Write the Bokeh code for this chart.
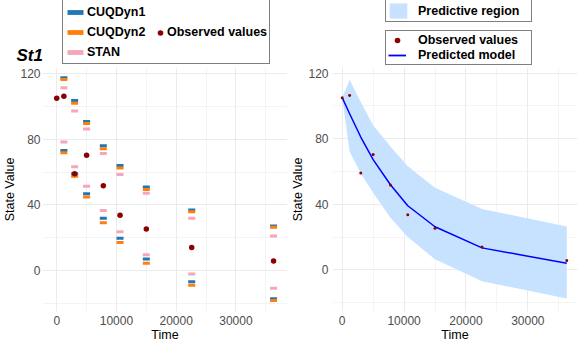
from bokeh.plotting import figure
from bokeh.models import Range1d, FixedTicker, Legend, LegendItem, Label
from bokeh.layouts import row, column
from bokeh.embed import file_html
from bokeh.resources import INLINE

# ---------------- data ----------------
times = [0, 1200, 3000, 5000, 7800, 10600, 15000, 22600, 36300]
observed = [105.0, 106.3, 59.0, 70.3, 51.7, 33.6, 25.3, 14.0, 5.7]

est_times = [1200, 3000, 5000, 7800, 10600, 15000, 22600, 36300]
cuq1_upper = [117.5, 103.6, 90.9, 76.0, 64.0, 50.8, 36.8, 27.1]
cuq1_lower = [73.1, 59.0, 46.8, 31.8, 19.6, 6.9, -7.0, -17.3]
cuq2_upper = [116.5, 102.0, 89.7, 74.2, 62.4, 49.3, 35.8, 26.3]
cuq2_lower = [71.8, 57.4, 44.7, 29.1, 17.0, 4.3, -9.1, -18.4]
stan_upper = [111.5, 97.3, 86.3, 71.3, 58.5, 47.0, 31.8, 21.0]
stan_lower = [78.4, 63.2, 51.3, 36.6, 23.6, 9.5, -2.2, -10.9]

region_upper = [105.0, 116.0, 102.3, 88.2, 75.2, 63.2, 50.1, 37.1, 26.5]
region_lower = [105.0, 72.2, 58.8, 47.0, 31.8, 20.0, 6.4, -7.0, -17.4]
model = [105.0, 95.2, 81.0, 67.2, 51.9, 39.1, 26.3, 13.4, 4.0]

x_ticks = [0, 10000, 20000, 30000]
x_minor = [5000, 15000, 25000, 35000]
y_ticks = [0, 40, 80, 120]
y_minor = [-20, 20, 60, 100]

method_labels = ["CUQDyn1", "CUQDyn2", "STAN"]
panel_title = "St1"

# ---------------- styles ----------------
FONT = "Liberation Sans"
BLUE = "#1F77B4"
ORANGE = "#FF7F0E"
PINK = "#F4A7B9"
DARKRED = "#8B0000"
REGION = "#C6E2FF"
MODEL = "#0000FF"
W, H = 581, 344
HEAD_H = 66
NAN = float("nan")


def base_fig(width, min_left, min_right, min_top, xr, yr, ylab_standoff):
    p = figure(width=width, height=H - HEAD_H, output_backend="svg", toolbar_location=None,
               x_range=Range1d(*xr), y_range=Range1d(*yr),
               min_border_left=min_left, min_border_right=min_right,
               min_border_top=min_top, min_border_bottom=32)
    p.outline_line_color = None
    p.background_fill_color = "white"
    p.border_fill_color = "white"
    p.xaxis.ticker = FixedTicker(ticks=x_ticks, minor_ticks=x_minor)
    p.yaxis.ticker = FixedTicker(ticks=y_ticks, minor_ticks=y_minor)
    p.xaxis.axis_label = "Time"
    p.yaxis.axis_label = "State Value"
    for ax in (p.xaxis[0], p.yaxis[0]):
        ax.axis_line_color = None
        ax.major_tick_line_color = None
        ax.minor_tick_line_color = None
        ax.major_tick_out = 0
        ax.major_tick_in = 0
        ax.minor_tick_out = 0
        ax.minor_tick_in = 0
        ax.major_label_text_font = FONT
        ax.major_label_text_font_size = "12px"
        ax.major_label_text_color = "#4D4D4D"
        ax.axis_label_text_font = FONT
        ax.axis_label_text_font_size = "12.5px"
        ax.axis_label_text_font_style = "normal"
        ax.axis_label_text_color = "black"
        ax.axis_label_standoff = 0
    p.xaxis.major_label_standoff = 4
    p.yaxis.major_label_standoff = ylab_standoff
    for g in (p.xgrid[0], p.ygrid[0]):
        g.grid_line_color = "#EBEBEB"
        g.grid_line_width = 1
        g.minor_grid_line_color = "#EFEFEF"
        g.minor_grid_line_width = 0.7
    return p


def make_legend(items, loc, **kw):
    base = dict(orientation="vertical", margin=0,
                label_text_font=FONT, label_text_font_style="bold",
                label_text_font_size="12.5px", label_text_color="black",
                border_line_color="black", border_line_width=1,
                background_fill_color="white", background_fill_alpha=1)
    base.update(kw)
    return Legend(items=items, location=loc, **base)


# ---------------- left panel ----------------
p1 = base_fig(287, 40, 0, 1, (-2380, 38636), (-25.1, 123.8), 2)
p1.rect(x=est_times + est_times, y=cuq1_upper + cuq1_lower, width=7, height=3,
        width_units="screen", height_units="screen", fill_color=BLUE, line_color=None)
p1.rect(x=est_times + est_times, y=cuq2_upper + cuq2_lower, width=7, height=3,
        width_units="screen", height_units="screen", fill_color=ORANGE, line_color=None)
p1.rect(x=est_times + est_times, y=stan_upper + stan_lower, width=7, height=3,
        width_units="screen", height_units="screen", fill_color=PINK, line_color=None)
p1.scatter(x=times, y=observed, size=5.5, fill_color=DARKRED, line_color=None)

# ---------------- right panel ----------------
p2 = base_fig(294, 45, 4, 0, (-1568, 38030), (-25.4, 123.4), 4)
p2.varea(x=times, y1=region_lower, y2=region_upper, fill_color=REGION, fill_alpha=1)
p2.line(x=times, y=model, line_color=MODEL, line_width=1.5)
p2.scatter(x=times, y=observed, size=3, fill_color=DARKRED, line_color=None)

# ---------------- header with title and legends ----------------
hd = figure(width=W, height=HEAD_H, output_backend="svg", toolbar_location=None,
            x_range=Range1d(0, 1), y_range=Range1d(0, 1),
            x_axis_type=None, y_axis_type=None,
            min_border_left=0, min_border_right=0, min_border_top=0, min_border_bottom=0)
hd.outline_line_color = None
hd.xgrid.visible = False
hd.ygrid.visible = False
hd.background_fill_color = "white"
hd.border_fill_color = "white"

# legend keys: style carriers with a single undrawn (NaN) point
k_c1 = hd.rect(x=[NAN], y=[NAN], width=1, height=1, fill_color=BLUE, line_color=None)
k_c2 = hd.rect(x=[NAN], y=[NAN], width=1, height=1, fill_color=ORANGE, line_color=None)
k_st = hd.rect(x=[NAN], y=[NAN], width=1, height=1, fill_color=PINK, line_color=None)
k_obs = hd.scatter(x=[NAN], y=[NAN], fill_color=DARKRED, line_color=None)
k_reg = hd.varea(x=[NAN], y1=[NAN], y2=[NAN], fill_color=REGION, fill_alpha=1)
k_mod = hd.line(x=[NAN], y=[NAN], line_color=MODEL, line_width=1.8)

legA = make_legend([LegendItem(label=method_labels[0], renderers=[k_c1]),
                    LegendItem(label=method_labels[1], renderers=[k_c2]),
                    LegendItem(label=method_labels[2], renderers=[k_st])],
                   (62, 2), glyph_width=20, glyph_height=6, label_height=19,
                   label_width=180, label_standoff=2, padding=2, spacing=1)
legB = make_legend([LegendItem(label="Observed values", renderers=[k_obs])],
                   (153, 24.5), glyph_width=14, glyph_height=15, label_height=19,
                   label_standoff=0, padding=0, spacing=0,
                   border_line_alpha=0, background_fill_alpha=0)
legC = make_legend([LegendItem(label="Predictive region", renderers=[k_reg])],
                   (385, 44), glyph_width=22, glyph_height=19, label_height=19,
                   label_width=112, label_standoff=9, padding=1, spacing=0)
legD = make_legend([LegendItem(label="Observed values", renderers=[k_obs]),
                    LegendItem(label="Predicted model", renderers=[k_mod])],
                   (385, 1), glyph_width=18, glyph_height=14, label_height=14,
                   label_width=111, label_standoff=12, padding=2, spacing=1)
for lg in (legA, legB, legC, legD):
    hd.add_layout(lg)

hd.add_layout(Label(x=16, y=HEAD_H - 54.7, x_units="screen", y_units="screen",
                    text=panel_title, text_font=FONT, text_font_style="bold italic",
                    text_font_size="17px", text_color="black",
                    text_baseline="middle", text_align="left"))

layout = column(hd, row(p1, p2, spacing=0), spacing=0)

open("out.html", "w").write(file_html(layout, INLINE))
